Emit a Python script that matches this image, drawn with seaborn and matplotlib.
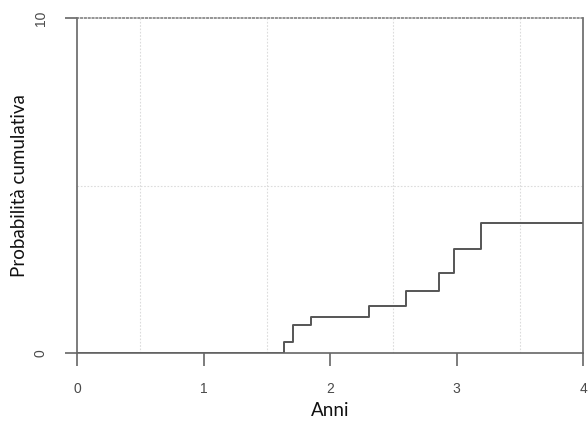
import numpy as np
import pandas as pd
import matplotlib
matplotlib.use("Agg")
import matplotlib.pyplot as plt
import seaborn as sns

# step points (years, cumulative probability)
anni = [0, 1.637, 1.709, 1.849, 2.307, 2.60, 2.86, 2.98, 3.19, 4.0]
prob = [0, 0.32, 0.84, 1.08, 1.39, 1.85, 2.40, 3.10, 3.89, 3.89]
x_ticks = [0, 1, 2, 3, 4]
y_ticks = [0, 10]

df = pd.DataFrame({"Anni": anni, "Prob": prob})

sns.set_theme(style="ticks")
plt.rcParams["font.family"] = ["Lato", "DejaVu Sans"]

fig = plt.figure(figsize=(5.88, 4.25), dpi=100)
ax = fig.add_axes([77 / 588, 1 - 353 / 425, 506 / 588, 335 / 425])

sns.lineplot(data=df, x="Anni", y="Prob", drawstyle="steps-post",
             color="#555555", linewidth=1.4, ax=ax)

ax.set_xlim(0, 4)
ax.set_ylim(0, 10)
ax.set_xticks(x_ticks)
ax.set_yticks(y_ticks)
ax.set_xticks(np.arange(0.5, 4, 0.5), minor=True)
ax.set_yticks([5], minor=True)
ax.grid(which="minor", color="#dcdcdc", linestyle=(0, (1.5, 1.5)), linewidth=0.8)
ax.tick_params(which="minor", length=0)
ax.tick_params(which="major", length=9, width=1.2, color="#666666",
               labelsize=10, labelcolor="#4a4a4a", direction="out")
ax.tick_params(axis="x", pad=12)
ax.tick_params(axis="y", pad=12)
for lab in ax.get_xticklabels() + ax.get_yticklabels():
    lab.set_family(["Liberation Sans", "DejaVu Sans"])
for lab in ax.get_yticklabels():
    lab.set_rotation(90)
    lab.set_va("center")

for side in ["left", "bottom", "right"]:
    ax.spines[side].set_visible(True)
    ax.spines[side].set_color("#666666")
    ax.spines[side].set_linewidth(1.2)
ax.spines["top"].set_visible(True)
ax.spines["top"].set_color("#777777")
ax.spines["top"].set_linestyle((0, (1, 1.5)))
ax.spines["top"].set_linewidth(1.1)

ax.set_xlabel("Anni", fontsize=13.5, color="#111111", labelpad=4)
ax.set_ylabel("Probabilità cumulativa", fontsize=13.5, color="#111111", labelpad=4)

fig.savefig("out.png", dpi=100)
